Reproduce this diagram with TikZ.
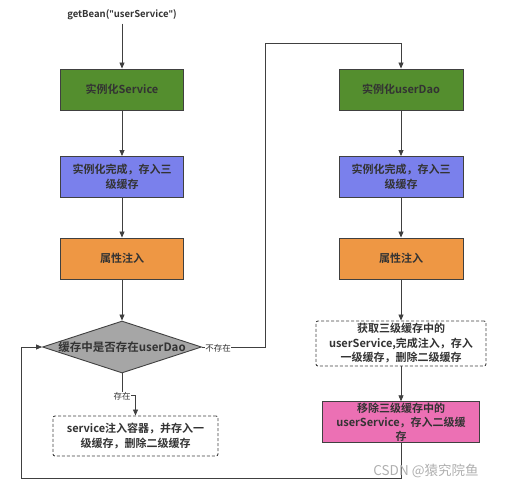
\documentclass[tikz,border=0pt]{standalone}
\usepackage{fontspec}
\setmainfont{Noto Sans CJK SC}[BoldFont={Noto Sans CJK SC Bold}]
\newfontfamily\latq{Open Sans}[BoldFont={Open Sans Bold}]
\usetikzlibrary{arrows.meta,shapes.geometric}
\definecolor{cgreen}{RGB}{84,142,46}
\definecolor{cblue}{RGB}{122,128,236}
\definecolor{corange}{RGB}{238,151,68}
\definecolor{cpink}{RGB}{236,112,180}
\definecolor{cgray}{RGB}{166,166,166}
\definecolor{cline}{RGB}{64,64,64}
\definecolor{ctext}{RGB}{51,51,51}
\tikzset{
  box/.style={draw=cline, line width=0.9pt, minimum width=123pt, minimum height=41pt,
    inner sep=1pt, align=center, text=ctext, font=\bfseries\fontsize{11}{15.5}\selectfont},
  dbox/.style={box, fill=white, dashed, dash pattern=on 3pt off 2pt, rounded corners=2pt},
  arr/.style={draw=cline, line width=0.8pt, -{Triangle[length=6pt,width=5pt]}},
  lbl/.style={fill=white, inner sep=0.5pt, text=ctext, font=\fontsize{8.5}{10}\selectfont},
}
\begin{document}
\begin{tikzpicture}[x=1pt,y=-1pt]
\useasboundingbox (0,0) rectangle (510,489);
% left column
\node[text=ctext, font=\bfseries\fontsize{9.5}{11}\selectfont] (get) at (122,15) {getBean({\latq"}userService{\latq"})};
\node[box, fill=cgreen] (g1) at (122,89.5) {实例化Service};
\node[box, fill=cblue, text width=115pt] (b1) at (122,177) {实例化完成，存入三\\级缓存};
\node[box, fill=corange] (o1) at (122,258.5) {属性注入};
\node[diamond, draw=cline, line width=0.9pt, fill=cgray, minimum width=159pt, minimum height=52pt, inner sep=0pt] (dia) at (122,347) {};
\node[text=ctext, font=\bfseries\fontsize{11.5}{13}\selectfont] (diat) at (122,347) {缓存中是否存在userDao};
\node[dbox, minimum width=165pt, minimum height=40pt] (d1) at (135.5,436) {service注入容器，并存入一\\级缓存，删除二级缓存};
% right column
\node[box, fill=cgreen, minimum width=124pt] (g2) at (401,89.5) {实例化userDao};
\node[box, fill=cblue, minimum width=124pt, text width=115pt] (b2) at (401,177) {实例化完成，存入三\\级缓存};
\node[box, fill=corange, minimum width=124pt] (o2) at (401,258.5) {属性注入};
\node[dbox, minimum width=170pt, minimum height=45pt, font=\bfseries\fontsize{11}{14.5}\selectfont] (d2) at (401,343.5) {获取三级缓存中的\\userService,完成注入，存入\\一级缓存，删除二级缓存};
\node[box, fill=cpink, minimum width=157pt, minimum height=40pt, font=\bfseries\fontsize{11}{14}\selectfont] (p2) at (401,422) {移除三级缓存中的\\userService，存入二级缓\\存};
% helper coordinates
\coordinate (tl) at (265,43);
\coordinate (bl) at (21,478);
% connectors
\draw[arr] (get) -- (g1);
\draw[arr] (g1) -- (b1);
\draw[arr] (b1) -- (o1);
\draw[arr] (o1) -- (dia.north);
\draw[arr] (dia.south) -- ++(0,22) -| (d1.north);
\node[lbl] (yes) at (122,396) {存在};
\draw[arr] (dia.east) -| (tl) -| (g2.north);
\node[lbl] (no) at (218,348) {不存在};
\draw[arr] (g2) -- (b2);
\draw[arr] (b2) -- (o2);
\draw[arr] (o2) -- (d2);
\draw[arr] (d2) -- (p2);
\draw[arr] (p2.south) |- (bl) |- (dia.west);
% watermark
\node[text={rgb,255:red,175;green,175;blue,175}, font=\fontsize{13.5}{15}\selectfont] (wm) at (426,471) {CSDN @猿究院鱼};
\end{tikzpicture}
\end{document}
